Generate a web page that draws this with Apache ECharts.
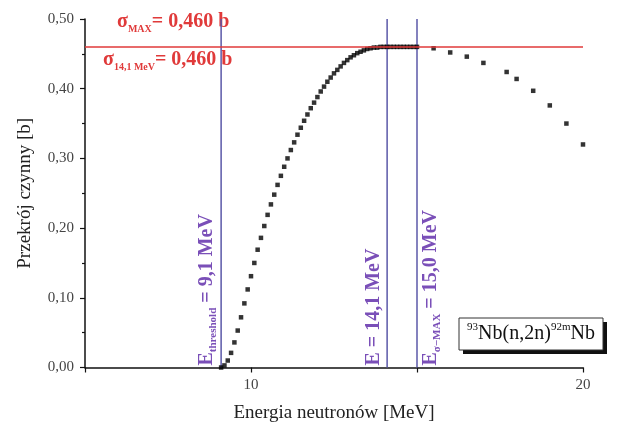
<!DOCTYPE html>
<html><head><meta charset="utf-8">
<script src="https://cdn.jsdelivr.net/npm/echarts@6/dist/echarts.min.js"></script>
<style>html,body{margin:0;padding:0;background:#fff}#c{width:619px;height:426px}</style>
</head><body><div id="c"></div>
<script>
const energy = [9.1,9.2,9.3,9.4,9.5,9.6,9.7,9.8,9.9,10.0,
  10.1,10.2,10.3,10.4,10.5,10.6,10.7,10.8,10.9,11.0,
  11.1,11.2,11.3,11.4,11.5,11.6,11.7,11.8,11.9,12.0,
  12.1,12.2,12.3,12.4,12.5,12.6,12.7,12.8,12.9,13.0,
  13.1,13.2,13.3,13.4,13.5,13.6,13.7,13.8,13.9,14.0,
  14.1,14.2,14.3,14.4,14.5,14.6,14.7,14.8,14.9,15.0,
  15.5,16.0,16.5,17.0,17.7,18.0,18.5,19.0,19.5,20.0];
const sigma = [0.000,0.003,0.010,0.021,0.036,0.053,0.072,0.092,0.112,0.131,
  0.150,0.169,0.186,0.203,0.219,0.234,0.248,0.262,0.275,0.288,
  0.300,0.312,0.323,0.334,0.344,0.354,0.363,0.372,0.380,0.388,
  0.396,0.403,0.410,0.416,0.422,0.427,0.432,0.437,0.441,0.445,
  0.448,0.451,0.453,0.455,0.457,0.458,0.459,0.459,0.460,0.460,
  0.460,0.460,0.460,0.460,0.460,0.460,0.460,0.460,0.460,0.460,
  0.458,0.452,0.446,0.437,0.424,0.414,0.397,0.376,0.350,0.320];
const sigmaMax = 0.460;
const markerEnergies = [9.1, 14.1, 15.0];
const xTickLabels = [10, 20];
const yTicks = [0, 0.1, 0.2, 0.3, 0.4, 0.5];

const SERIF = '"Liberation Serif","DejaVu Serif",serif';
const chart = echarts.init(document.getElementById('c'), null, {renderer:'canvas'});
const pts = energy.map((e,i)=>[e, sigma[i]]);

const series = [{
  type:'scatter', data: pts, symbol:'rect', symbolSize:4.5,
  itemStyle:{color:'#000'}, z:3
}];
markerEnergies.forEach(e=>{
  series.push({type:'line', data:[[e,0],[e,0.5]], symbol:'none', silent:true,
    lineStyle:{color:'#5b58a8', width:1.5}, z:2});
});
series.push({type:'line', data:[[5,sigmaMax],[20,sigmaMax]], symbol:'none', silent:true,
  lineStyle:{color:'#e03a3a', width:1.5}, z:4});

chart.setOption({
  animation:false,
  backgroundColor:'#fff',
  grid:{left:85, right:36, top:19, bottom:58.5, containLabel:false, outerBoundsMode:'none'},
  xAxis:{type:'value', min:5, max:20, interval:5,
    name:'Energia neutronów [MeV]', nameLocation:'middle', nameGap:36,
    nameTextStyle:{fontFamily:SERIF, fontSize:19, color:'#222'},
    axisLine:{show:true, onZero:false, lineStyle:{color:'#111', width:1.5}},
    axisTick:{show:true, length:5, lineStyle:{color:'#111', width:1.2}},
    axisLabel:{fontFamily:SERIF, fontSize:15, color:'#444', margin:10,
      formatter:v=> xTickLabels.indexOf(v)>=0 ? String(v) : ''},
    splitLine:{show:false}},
  yAxis:{type:'value', min:0, max:0.5, interval:0.1,
    name:'Przekrój czynny [b]', nameLocation:'middle', nameGap:50,
    nameTextStyle:{fontFamily:SERIF, fontSize:19, color:'#222'},
    axisLine:{show:true, onZero:false, lineStyle:{color:'#111', width:1.5}},
    axisTick:{show:true, length:5, lineStyle:{color:'#111', width:1.2}},
    minorTick:{show:true, splitNumber:2, length:3, lineStyle:{color:'#111', width:1.2}},
    axisLabel:{fontFamily:SERIF, fontSize:15, color:'#444', margin:11,
      formatter:v=> v.toFixed(2).replace('.',',')},
    splitLine:{show:false}},
  series: series
});

const px = e => chart.convertToPixel({gridIndex:0}, [e, 0]);
const p1 = px(markerEnergies[0]), p2 = px(markerEnergies[1]), p3 = px(markerEnergies[2]);
const purple = '#7a4fb8';
const red = '#e03a3a';
const vRich = {
  m:{fontFamily:SERIF, fontSize:20, fontWeight:'bold', fill:purple, color:purple, lineHeight:24, verticalAlign:'middle'},
  s:{fontFamily:SERIF, fontSize:11, fontWeight:'bold', fill:purple, color:purple, lineHeight:24, verticalAlign:'bottom'}
};
const rRich = {
  m:{fontFamily:SERIF, fontSize:20, fontWeight:'bold', fill:red, color:red, lineHeight:24, verticalAlign:'middle'},
  s:{fontFamily:SERIF, fontSize:10, fontWeight:'bold', fill:red, color:red, lineHeight:24, verticalAlign:'bottom'}
};
const bRich = {
  m:{fontFamily:SERIF, fontSize:20, fill:'#111', color:'#111', lineHeight:24, verticalAlign:'middle'},
  p:{fontFamily:SERIF, fontSize:11, fill:'#111', color:'#111', lineHeight:24, verticalAlign:'top'}
};
const base = p1[1];
chart.setOption({graphic:[
  {type:'text', x:p1[0]-14, y:base-2, rotation:Math.PI/2,
    style:{text:'{m|E}{s|threshold}{m| = 9,1 MeV}', rich:vRich, align:'left', verticalAlign:'middle'}},
  {type:'text', x:p2[0]-13, y:base-2, rotation:Math.PI/2,
    style:{text:'{m|E = 14,1 MeV}', rich:vRich, align:'left', verticalAlign:'middle'}},
  {type:'text', x:p3[0]+14, y:base-2, rotation:Math.PI/2,
    style:{text:'{m|E}{s|σ−MAX}{m| = 15,0 MeV}', rich:vRich, align:'left', verticalAlign:'middle'}},
  {type:'text', x:117, y:22,
    style:{text:'{m|σ}{s|MAX}{m|= 0,460 b}', rich:rRich, align:'left', verticalAlign:'middle'}},
  {type:'text', x:103, y:60,
    style:{text:'{m|σ}{s|14,1 MeV}{m|= 0,460 b}', rich:rRich, align:'left', verticalAlign:'middle'}},
  {type:'rect', shape:{x:463, y:322, width:144, height:32}, style:{fill:'#111'}, z:10},
  {type:'rect', shape:{x:459, y:318, width:144, height:32}, style:{fill:'#fff', stroke:'#333', lineWidth:1}, z:11},
  {type:'text', x:531, y:334, z:12,
    style:{text:'{p|93}{m|Nb(n,2n)}{p|92m}{m|Nb}', rich:bRich, align:'center', verticalAlign:'middle'}}
]});
</script></body></html>
